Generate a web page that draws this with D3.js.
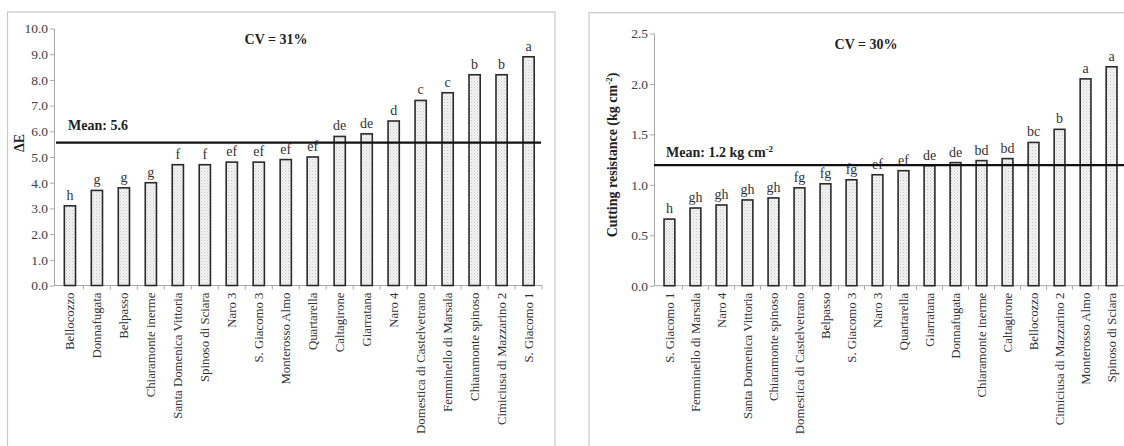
<!DOCTYPE html>
<html>
<head>
<meta charset="utf-8">
<script src="https://cdn.jsdelivr.net/npm/d3@7"></script>
<style>
html,body{margin:0;padding:0;background:#fff;}
text{font-family:"Liberation Serif","Times New Roman","DejaVu Serif",serif !important;}
</style>
</head>
<body>
<svg id="chart" width="1124" height="446" font-family="Liberation Serif, Times New Roman, serif"></svg>
<script>
// ---- Data ----
const leftCategories = ["Bellocozzo","Donnafugata","Belpasso","Chiaramonte inerme","Santa Domenica Vittoria","Spinoso di Sciara","Naro 3","S. Giacomo 3","Monterosso Almo","Quartarella","Caltagirone","Giarratana","Naro 4","Domestica di Castelvetrano","Femminello di Marsala","Chiaramonte spinoso","Cimiciusa di Mazzarino 2","S. Giacomo 1"];
const leftValues = [3.1,3.7,3.8,4.0,4.7,4.7,4.8,4.8,4.9,5.0,5.8,5.9,6.4,7.2,7.5,8.2,8.2,8.9];
const leftLetters = ["h","g","g","g","f","f","ef","ef","ef","ef","de","de","d","c","c","b","b","a"];
const leftTicks = [0,1,2,3,4,5,6,7,8,9,10];
const leftMean = 5.56;

const rightCategories = ["S. Giacomo 1","Femminello di Marsala","Naro 4","Santa Domenica Vittoria","Chiaramonte spinoso","Domestica di Castelvetrano","Belpasso","S. Giacomo 3","Naro 3","Quartarella","Giarratana","Donnafugata","Chiaramonte inerme","Caltagirone","Bellocozzo","Cimiciusa di Mazzarino 2","Monterosso Almo","Spinoso di Sciara"];
const rightValues = [0.66,0.77,0.80,0.85,0.87,0.97,1.01,1.05,1.10,1.14,1.19,1.22,1.24,1.26,1.42,1.55,2.05,2.17];
const rightLetters = ["h","gh","gh","gh","gh","fg","fg","fg","ef","ef","de","de","bd","bd","bc","b","a","a"];
const rightTicks = [0,0.5,1.0,1.5,2.0,2.5];
const rightMean = 1.195;

const FONT = "Liberation Serif, Times New Roman, DejaVu Serif, serif";
const svg = d3.select("#chart");

const defs = svg.append("defs");
const pat = defs.append("pattern").attr("id","dots").attr("patternUnits","userSpaceOnUse")
  .attr("width",3).attr("height",3);
pat.append("rect").attr("width",3).attr("height",3).attr("fill","#f4f4f4");
pat.append("rect").attr("x",0).attr("y",0).attr("width",1).attr("height",1).attr("fill","#c4c4c4");
pat.append("rect").attr("x",1.5).attr("y",1.5).attr("width",1).attr("height",1).attr("fill","#d6d6d6");

const blur = defs.append("filter").attr("id","blur").attr("x","-5%").attr("y","-200%").attr("width","110%").attr("height","500%");
blur.append("feGaussianBlur").attr("stdDeviation",1.5);

function panel(cfg){
  const g = svg.append("g").attr("font-family",FONT);
  g.append("rect").attr("x",cfg.frame[0]).attr("y",cfg.frame[1]).attr("width",cfg.frame[2]).attr("height",cfg.frame[3])
    .attr("fill","none").attr("stroke","#c9c9c9").attr("stroke-width",1.2);

  const x = d3.scaleBand().domain(cfg.cats).range(cfg.xRange).paddingInner(0.585).paddingOuter(0.29);
  const y = d3.scaleLinear().domain(cfg.yDomain).range(cfg.yRange);

  const yAxis = d3.axisLeft(y).tickValues(cfg.ticks).tickFormat(d3.format(".1f")).tickSize(4).tickSizeOuter(0);
  const ya = g.append("g").attr("transform",`translate(${cfg.axisX},0)`).call(yAxis);
  ya.attr("font-family",FONT).attr("font-size",13.5);
  ya.select(".domain").attr("stroke","#a8a8a8");
  ya.selectAll(".tick line").attr("stroke","#a8a8a8");
  ya.selectAll(".tick text").attr("fill","#404040").attr("x",-6).attr("font-family",FONT);

  const y0 = y(0);
  g.append("line").attr("x1",cfg.axisX).attr("x2",cfg.xAxisEnd).attr("y1",y0).attr("y2",y0).attr("stroke","#a8a8a8");
  const step = x.step();
  const bounds = cfg.cats.map((c,i)=> x(c) + x.bandwidth()/2 + step/2);
  g.selectAll(".xt").data(bounds).enter().append("line")
    .attr("x1",d=>d).attr("x2",d=>d).attr("y1",y0).attr("y2",y0+4).attr("stroke","#a8a8a8");

  g.selectAll(".bar").data(cfg.vals).enter().append("rect")
    .attr("x",(d,i)=>x(cfg.cats[i])).attr("width",x.bandwidth())
    .attr("y",d=>y(d)).attr("height",d=>y0-y(d))
    .attr("fill","url(#dots)").attr("stroke","#2a2a2a").attr("stroke-width",1.6);

  g.selectAll(".lt").data(cfg.letters).enter().append("text")
    .attr("font-family",FONT)
    .attr("x",(d,i)=>x(cfg.cats[i])+x.bandwidth()/2).attr("y",(d,i)=>y(cfg.vals[i])-6)
    .attr("text-anchor","middle").attr("font-size",14).attr("fill","#333").text(d=>d);

  g.selectAll(".cl").data(cfg.cats).enter().append("text")
    .attr("font-family",FONT)
    .attr("transform",(d)=>`translate(${x(d)+x.bandwidth()/2+4.5},${y0+7}) rotate(-90)`)
    .attr("text-anchor","end").attr("font-size",12.8).attr("fill","#333").text(d=>d);

  const ym = y(cfg.mean);
  g.append("line").attr("x1",cfg.meanX[0]).attr("x2",cfg.meanX[1]).attr("y1",ym+1).attr("y2",ym+1)
    .attr("stroke","#9a9a9a").attr("stroke-width",5).attr("filter","url(#blur)").attr("opacity",0.8);
  g.append("line").attr("x1",cfg.meanX[0]).attr("x2",cfg.meanX[1]).attr("y1",ym).attr("y2",ym)
    .attr("stroke","#111").attr("stroke-width",2.2);

  const mt = g.append("text").attr("font-family",FONT).attr("x",cfg.meanText[0]).attr("y",cfg.meanText[1])
    .attr("font-size",14).attr("font-weight","bold").attr("fill","#222");
  mt.append("tspan").text(cfg.meanLabel);
  if (cfg.meanSup){
    mt.append("tspan").attr("dy",-5).attr("font-size",9).text(cfg.meanSup);
  }

  g.append("text").attr("font-family",FONT).attr("x",cfg.cv[0]).attr("y",cfg.cv[1]).attr("text-anchor","middle")
    .attr("font-size",14).attr("font-weight","bold").attr("fill","#222").text(cfg.cvLabel);

  const yl = g.append("text").attr("font-family",FONT).attr("transform",`translate(${cfg.yLab[0]},${cfg.yLab[1]}) rotate(-90)`)
    .attr("text-anchor","middle").attr("font-size",14).attr("font-weight","bold").attr("fill","#222");
  yl.append("tspan").text(cfg.yLabel);
  if (cfg.yLabelSup){
    yl.append("tspan").attr("dy",-5).attr("font-size",9).text(cfg.yLabelSup);
    yl.append("tspan").attr("dy",5).text(cfg.yLabelTail);
  }
}

panel({
  frame:[7.5,12,547.5,460],
  cats:leftCategories, vals:leftValues, letters:leftLetters, ticks:leftTicks,
  xRange:[56.5,542], yDomain:[0,10], yRange:[285.5,28.5],
  axisX:54, xAxisEnd:542, mean:leftMean, meanX:[56,541],
  meanLabel:"Mean: 5.6", meanText:[68,130],
  cvLabel:"CV = 31%", cv:[276,44],
  yLabel:"ΔE", yLab:[24,143]
});

panel({
  frame:[589,12.7,560,460],
  cats:rightCategories, vals:rightValues, letters:rightLetters, ticks:rightTicks,
  xRange:[656.5,1124.5], yDomain:[0,2.5], yRange:[285.7,33.5],
  axisX:654, xAxisEnd:1124, mean:rightMean, meanX:[654,1124],
  meanLabel:"Mean: 1.2 kg cm", meanSup:"-2", meanText:[666,157],
  cvLabel:"CV = 30%", cv:[866,49],
  yLabel:"Cutting resistance (kg cm", yLabelSup:"-2", yLabelTail:")", yLab:[617,155]
});
</script>
</body>
</html>
